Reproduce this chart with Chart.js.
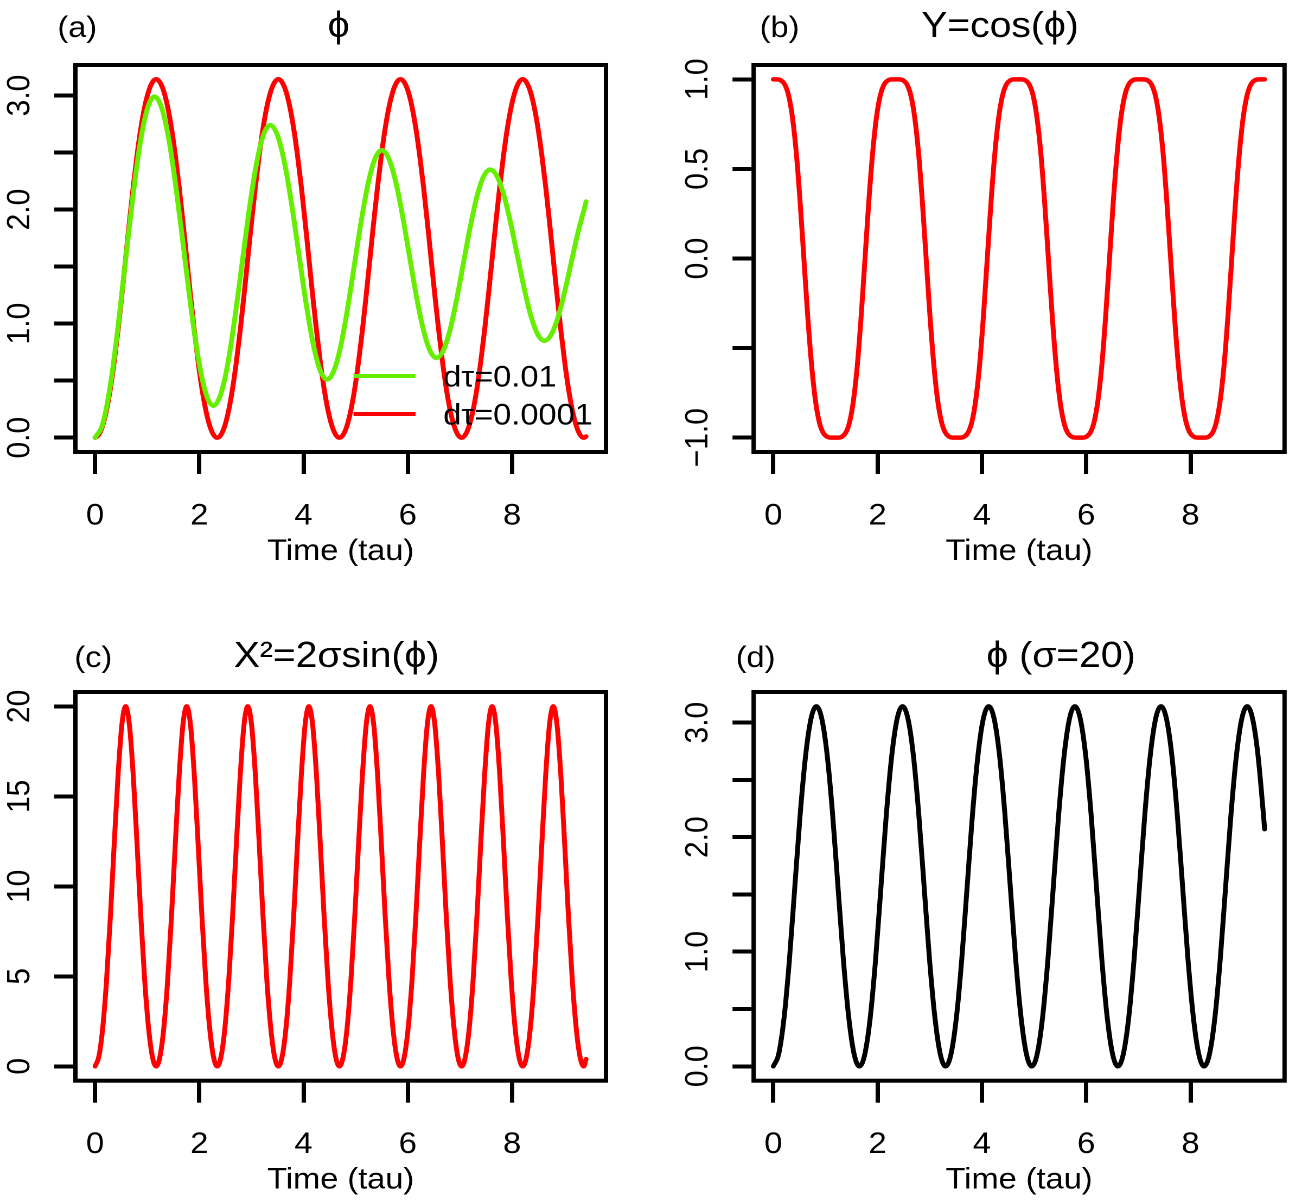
<!DOCTYPE html>
<html>
<head>
<meta charset="utf-8">
<title>phi, cos(phi) and X^2 against time</title>
<script src="https://cdn.jsdelivr.net/npm/chart.js"></script>
<style>
  html, body { margin: 0; padding: 0; background: #fff; }
  #page { position: relative; width: 1302px; height: 1200px; overflow: hidden; background: #fff; }
  #page canvas { position: absolute; }
</style>
</head>
<body>
<div id="page">
  <canvas id="panelA" width="600" height="600" style="left:0px;top:0px;width:651px;height:600px"></canvas>
  <canvas id="panelB" width="600" height="600" style="left:651px;top:0px;width:651px;height:600px"></canvas>
  <canvas id="panelC" width="600" height="600" style="left:0px;top:600px;width:651px;height:600px"></canvas>
  <canvas id="panelD" width="600" height="600" style="left:651px;top:600px;width:651px;height:600px"></canvas>
</div>
<script>
// time samples of the sigma=10 run (panels a, b, c)
const tau10 = [
  0, 0.073, 0.147, 0.220, 0.293, 0.366, 0.440, 0.513, 0.586, 0.659, 0.733, 0.806, 0.879, 0.952, 1.026, 1.099, 1.172,
  1.245, 1.319, 1.392, 1.465, 1.538, 1.612, 1.685, 1.758, 1.831, 1.905, 1.978, 2.051, 2.124, 2.198, 2.271, 2.344,
  2.417, 2.491, 2.564, 2.637, 2.710, 2.784, 2.857, 2.930, 3.003, 3.077, 3.150, 3.223, 3.296, 3.370, 3.443, 3.516,
  3.589, 3.663, 3.736, 3.809, 3.882, 3.956, 4.029, 4.102, 4.175, 4.249, 4.322, 4.395, 4.468, 4.542, 4.615, 4.688,
  4.761, 4.835, 4.908, 4.981, 5.054, 5.128, 5.201, 5.274, 5.347, 5.421, 5.494, 5.567, 5.640, 5.714, 5.787, 5.860,
  5.933, 6.007, 6.080, 6.153, 6.226, 6.300, 6.373, 6.446, 6.519, 6.593, 6.666, 6.739, 6.812, 6.886, 6.959, 7.032,
  7.105, 7.179, 7.252, 7.325, 7.398, 7.472, 7.545, 7.618, 7.691, 7.765, 7.838, 7.911, 7.984, 8.058, 8.131, 8.204,
  8.277, 8.351, 8.424, 8.497, 8.570, 8.644, 8.717, 8.790, 8.863, 8.937, 9.010, 9.083, 9.156, 9.230, 9.303, 9.376,
  9.420
];

// (a) phi, dtau = 0.0001
const phiFine = [
  0, 0.027, 0.107, 0.241, 0.427, 0.662, 0.938, 1.246, 1.571, 1.896, 2.204, 2.480, 2.715, 2.901, 3.035, 3.115, 3.142,
  3.115, 3.035, 2.901, 2.715, 2.480, 2.204, 1.896, 1.571, 1.246, 0.938, 0.662, 0.427, 0.241, 0.107, 0.027, 0,
  0.027, 0.107, 0.241, 0.427, 0.662, 0.938, 1.246, 1.571, 1.896, 2.204, 2.480, 2.715, 2.901, 3.035, 3.115, 3.142,
  3.115, 3.035, 2.901, 2.715, 2.480, 2.204, 1.896, 1.571, 1.246, 0.938, 0.662, 0.427, 0.241, 0.107, 0.027, 0,
  0.027, 0.107, 0.241, 0.427, 0.662, 0.938, 1.246, 1.571, 1.896, 2.204, 2.480, 2.715, 2.901, 3.035, 3.115, 3.142,
  3.115, 3.035, 2.901, 2.715, 2.480, 2.204, 1.896, 1.571, 1.246, 0.938, 0.662, 0.427, 0.241, 0.107, 0.027, 0,
  0.027, 0.107, 0.241, 0.427, 0.662, 0.938, 1.246, 1.571, 1.896, 2.204, 2.480, 2.715, 2.901, 3.035, 3.115, 3.142,
  3.115, 3.035, 2.901, 2.715, 2.480, 2.204, 1.896, 1.571, 1.246, 0.938, 0.662, 0.427, 0.241, 0.107, 0.027, 0,
  0.010
];

// (a) phi, dtau = 0.01 (own time samples)
const tauCoarse = [
  0, 0.143, 0.285, 0.428, 0.570, 0.713, 0.855, 0.998, 1.140,
  1.281, 1.423, 1.564, 1.705, 1.846, 1.988, 2.129, 2.270,
  2.406, 2.543, 2.679, 2.815, 2.951, 3.088, 3.224, 3.360,
  3.496, 3.633, 3.769, 3.905, 4.041, 4.178, 4.314, 4.450,
  4.581, 4.713, 4.844, 4.975, 5.106, 5.238, 5.369, 5.500,
  5.631, 5.763, 5.894, 6.025, 6.156, 6.288, 6.419, 6.550,
  6.679, 6.808, 6.936, 7.065, 7.194, 7.323, 7.451, 7.580,
  7.710, 7.840, 7.970, 8.100, 8.230, 8.360, 8.490, 8.620,
  8.749, 8.878, 9.006, 9.135, 9.264, 9.393, 9.420
];
const phiCoarse = [
  0, 0.114, 0.437, 0.924, 1.495, 2.066, 2.553, 2.876, 2.990,
  2.887, 2.594, 2.153, 1.635, 1.117, 0.676, 0.383, 0.280,
  0.373, 0.639, 1.040, 1.510, 1.980, 2.381, 2.647, 2.740,
  2.655, 2.414, 2.051, 1.625, 1.199, 0.836, 0.595, 0.510,
  0.586, 0.803, 1.131, 1.515, 1.899, 2.227, 2.444, 2.520,
  2.451, 2.254, 1.958, 1.610, 1.262, 0.966, 0.769, 0.700,
  0.763, 0.941, 1.210, 1.525, 1.840, 2.109, 2.287, 2.350,
  2.293, 2.131, 1.887, 1.600, 1.314, 1.069, 0.907, 0.850,
  0.902, 1.050, 1.273, 1.535, 1.797, 2.020, 2.070
];

// (b) Y = cos(phi)
const cosPhi = [
  1, 1.000, 0.994, 0.971, 0.910, 0.789, 0.591, 0.319, 0.000, -0.319, -0.591, -0.789, -0.910, -0.971, -0.994, -1.000, -1,
  -1.000, -0.994, -0.971, -0.910, -0.789, -0.591, -0.319, 0.000, 0.319, 0.591, 0.789, 0.910, 0.971, 0.994, 1.000, 1,
  1.000, 0.994, 0.971, 0.910, 0.789, 0.591, 0.319, 0.000, -0.319, -0.591, -0.789, -0.910, -0.971, -0.994, -1.000, -1,
  -1.000, -0.994, -0.971, -0.910, -0.789, -0.591, -0.319, 0.000, 0.319, 0.591, 0.789, 0.910, 0.971, 0.994, 1.000, 1,
  1.000, 0.994, 0.971, 0.910, 0.789, 0.591, 0.319, 0.000, -0.319, -0.591, -0.789, -0.910, -0.971, -0.994, -1.000, -1,
  -1.000, -0.994, -0.971, -0.910, -0.789, -0.591, -0.319, 0.000, 0.319, 0.591, 0.789, 0.910, 0.971, 0.994, 1.000, 1,
  1.000, 0.994, 0.971, 0.910, 0.789, 0.591, 0.319, 0.000, -0.319, -0.591, -0.789, -0.910, -0.971, -0.994, -1.000, -1,
  -1.000, -0.994, -0.971, -0.910, -0.789, -0.591, -0.319, 0.000, 0.319, 0.591, 0.789, 0.910, 0.971, 0.994, 1.000, 1,
  1
];

// (c) X^2 = 2 sigma sin(phi)
const xSquared = [
  0, 0.54, 2.14, 4.77, 8.28, 12.30, 16.13, 18.96, 20, 18.96, 16.13, 12.30, 8.28, 4.77, 2.14, 0.54, 0,
  0.54, 2.14, 4.77, 8.28, 12.30, 16.13, 18.96, 20, 18.96, 16.13, 12.30, 8.28, 4.77, 2.14, 0.54, 0,
  0.54, 2.14, 4.77, 8.28, 12.30, 16.13, 18.96, 20, 18.96, 16.13, 12.30, 8.28, 4.77, 2.14, 0.54, 0,
  0.54, 2.14, 4.77, 8.28, 12.30, 16.13, 18.96, 20, 18.96, 16.13, 12.30, 8.28, 4.77, 2.14, 0.54, 0,
  0.54, 2.14, 4.77, 8.28, 12.30, 16.13, 18.96, 20, 18.96, 16.13, 12.30, 8.28, 4.77, 2.14, 0.54, 0,
  0.54, 2.14, 4.77, 8.28, 12.30, 16.13, 18.96, 20, 18.96, 16.13, 12.30, 8.28, 4.77, 2.14, 0.54, 0,
  0.54, 2.14, 4.77, 8.28, 12.30, 16.13, 18.96, 20, 18.96, 16.13, 12.30, 8.28, 4.77, 2.14, 0.54, 0,
  0.54, 2.14, 4.77, 8.28, 12.30, 16.13, 18.96, 20, 18.96, 16.13, 12.30, 8.28, 4.77, 2.14, 0.54, 0,
  0.40
];

// (d) phi for sigma = 20
const tau20 = [
  0, 0.103, 0.207, 0.310, 0.413, 0.516, 0.620, 0.723, 0.826,
  0.929, 1.033, 1.136, 1.239, 1.342, 1.446, 1.549, 1.652,
  1.755, 1.859, 1.962, 2.065, 2.168, 2.272, 2.375, 2.478,
  2.581, 2.685, 2.788, 2.891, 2.994, 3.098, 3.201, 3.304,
  3.407, 3.511, 3.614, 3.717, 3.820, 3.924, 4.027, 4.130,
  4.233, 4.337, 4.440, 4.543, 4.646, 4.750, 4.853, 4.956,
  5.059, 5.163, 5.266, 5.369, 5.472, 5.576, 5.679, 5.782,
  5.885, 5.989, 6.092, 6.195, 6.298, 6.402, 6.505, 6.608,
  6.711, 6.815, 6.918, 7.021, 7.124, 7.228, 7.331, 7.434,
  7.537, 7.641, 7.744, 7.847, 7.950, 8.054, 8.157, 8.260,
  8.363, 8.467, 8.570, 8.673, 8.776, 8.880, 8.983, 9.086,
  9.189, 9.293, 9.396, 9.420
];
const phi20 = [
  0, 0.107, 0.427, 0.938, 1.571, 2.204, 2.715, 3.035, 3.142,
  3.035, 2.715, 2.204, 1.571, 0.938, 0.427, 0.107, 0,
  0.107, 0.427, 0.938, 1.571, 2.204, 2.715, 3.035, 3.142,
  3.035, 2.715, 2.204, 1.571, 0.938, 0.427, 0.107, 0,
  0.107, 0.427, 0.938, 1.571, 2.204, 2.715, 3.035, 3.142,
  3.035, 2.715, 2.204, 1.571, 0.938, 0.427, 0.107, 0,
  0.107, 0.427, 0.938, 1.571, 2.204, 2.715, 3.035, 3.142,
  3.035, 2.715, 2.204, 1.571, 0.938, 0.427, 0.107, 0,
  0.107, 0.427, 0.938, 1.571, 2.204, 2.715, 3.035, 3.142,
  3.035, 2.715, 2.204, 1.571, 0.938, 0.427, 0.107, 0,
  0.107, 0.427, 0.938, 1.571, 2.204, 2.715, 3.035, 3.142,
  3.035, 2.715, 2.204, 2.070
];

const seriesLabels = ['d\u03c4=0.01', 'd\u03c4=0.0001'];
const timeTicks = [0, 2, 4, 6, 8];
const timeTickLabels = ['0', '2', '4', '6', '8'];
const phiTicks = [0, 0.5, 1, 1.5, 2, 2.5, 3];
const phiTickLabels = ['0.0', '', '1.0', '', '2.0', '', '3.0'];
const cosTicks = [-1, -0.5, 0, 0.5, 1];
const cosTickLabels = ['\u22121.0', '', '0.0', '0.5', '1.0'];
const x2Ticks = [0, 5, 10, 15, 20];
const x2TickLabels = ['0', '5', '10', '15', '20'];
const xTitle = 'Time (tau)';

const FONT = '"Liberation Sans", Arial, Helvetica, sans-serif';
const PHI = '\u03d5';

function series(label, xs, ys, color) {
  return {
    label: label,
    data: xs.map((t, i) => ({ x: t, y: ys[i] })),
    borderColor: color,
    borderWidth: 4.5,
    borderCapStyle: 'round',
    borderJoinStyle: 'round',
    pointRadius: 0,
    fill: false,
    cubicInterpolationMode: 'monotone'
  };
}

// box, tick labels, titles and legend, placed with the chart's own scales
function panelText(cfg) {
  return {
    id: 'panelText',
    afterDraw(chart) {
      const ctx = chart.ctx;
      const a = chart.chartArea;
      const xs = chart.scales.x, ys = chart.scales.y;
      ctx.save();
      ctx.strokeStyle = '#000';
      ctx.lineWidth = 4;
      ctx.strokeRect(a.left, a.top, a.right - a.left, a.bottom - a.top);

      ctx.fillStyle = '#000';
      ctx.textAlign = 'center';
      ctx.textBaseline = 'alphabetic';
      ctx.font = '30px ' + FONT;
      timeTicks.forEach((v, i) => {
        ctx.fillText(timeTickLabels[i], xs.getPixelForValue(v), a.bottom + 72.5);
      });
      ctx.fillText(xTitle, (a.left + a.right) / 2, a.bottom + 108);

      cfg.yTicks.forEach((v, i) => {
        if (!cfg.yLabels[i]) return;
        ctx.save();
        ctx.translate(a.left - 42.5, ys.getPixelForValue(v));
        ctx.rotate(-Math.PI / 2);
        ctx.fillText(cfg.yLabels[i], 0, 0);
        ctx.restore();
      });

      ctx.fillText(cfg.tag, cfg.tagX, cfg.headY);
      ctx.font = '36px ' + FONT;
      ctx.fillText(cfg.title, cfg.titleX, cfg.headY);

      if (cfg.legend) {
        const lg = cfg.legend;
        ctx.font = '30px ' + FONT;
        ctx.textAlign = 'left';
        chart.data.datasets.forEach((ds, i) => {
          const ly = lg.rows[i];
          ctx.strokeStyle = ds.borderColor;
          ctx.lineWidth = 4;
          ctx.beginPath();
          ctx.moveTo(lg.x0, ly);
          ctx.lineTo(lg.x1, ly);
          ctx.stroke();
          ctx.fillText(ds.label, lg.tx, ly + 10.5);
        });
      }
      ctx.restore();
    }
  };
}

function makePanel(id, datasets, yMin, yMax, box, text) {
  const axisMarks = { drawOnChartArea: false, drawTicks: true, lineWidth: 4, color: '#000' };
  return new Chart(document.getElementById(id), {
    type: 'line',
    data: { datasets: datasets },
    options: {
      responsive: false,
      devicePixelRatio: 2,
      animation: false,
      events: [],
      layout: { padding: { left: 0, top: box.top, right: 600 - box.right, bottom: 0 } },
      plugins: {
        legend: { display: false },
        tooltip: { enabled: false },
        title: { display: false }
      },
      scales: {
        x: {
          type: 'linear',
          bounds: 'data',
          min: -0.377,
          max: 9.802,
          afterBuildTicks: s => { s.ticks = timeTicks.map(v => ({ value: v })); },
          afterFit: s => { s.height = 600 - box.bottom; },
          ticks: { display: false },
          grid: Object.assign({ tickLength: 22 }, axisMarks),
          border: { display: false }
        },
        y: {
          type: 'linear',
          bounds: 'data',
          min: yMin,
          max: yMax,
          afterBuildTicks: s => { s.ticks = text.yTicks.map(v => ({ value: v })); },
          afterFit: s => { s.width = box.left; },
          ticks: { display: false },
          grid: Object.assign({ tickLength: 19.5 }, axisMarks),
          border: { display: false }
        }
      }
    },
    plugins: [panelText(text)]
  });
}

const RED = '#ff0000';
const GREEN = '#66ee00';

makePanel('panelA',
  [series(seriesLabels[0], tauCoarse, phiCoarse, GREEN), series(seriesLabels[1], tau10, phiFine, RED)],
  -0.1257, 3.2673,
  { left: 69.5, right: 558.5, top: 65, bottom: 452 },
  { yTicks: phiTicks, yLabels: phiTickLabels, tag: '(a)', tagX: 71.2, title: PHI, titleX: 312.1, headY: 37,
    legend: { x0: 325.8, x1: 383, tx: 408.5, rows: [376, 414] } });

makePanel('panelB',
  [series('Y', tau10, cosPhi, RED)],
  -1.08, 1.08,
  { left: 94.6, right: 583.9, top: 65, bottom: 452 },
  { yTicks: cosTicks, yLabels: cosTickLabels, tag: '(b)', tagX: 118.5, title: 'Y=cos(' + PHI + ')', titleX: 321.7, headY: 37 });

makePanel('panelC',
  [series('X2', tau10, xSquared, RED)],
  -0.8, 20.8,
  { left: 69.5, right: 558.5, top: 92, bottom: 480.7 },
  { yTicks: x2Ticks, yLabels: x2TickLabels, tag: '(c)', tagX: 86.0, title: 'X\u00b2=2\u03c3sin(' + PHI + ')', titleX: 310.2, headY: 67 });

makePanel('panelD',
  [series('phi', tau20, phi20, '#000000')],
  -0.1257, 3.2673,
  { left: 94.6, right: 583.9, top: 92, bottom: 480.7 },
  { yTicks: phiTicks, yLabels: phiTickLabels, tag: '(d)', tagX: 96.4, title: PHI + ' (\u03c3=20)', titleX: 377.9, headY: 67 });
</script>
</body>
</html>
